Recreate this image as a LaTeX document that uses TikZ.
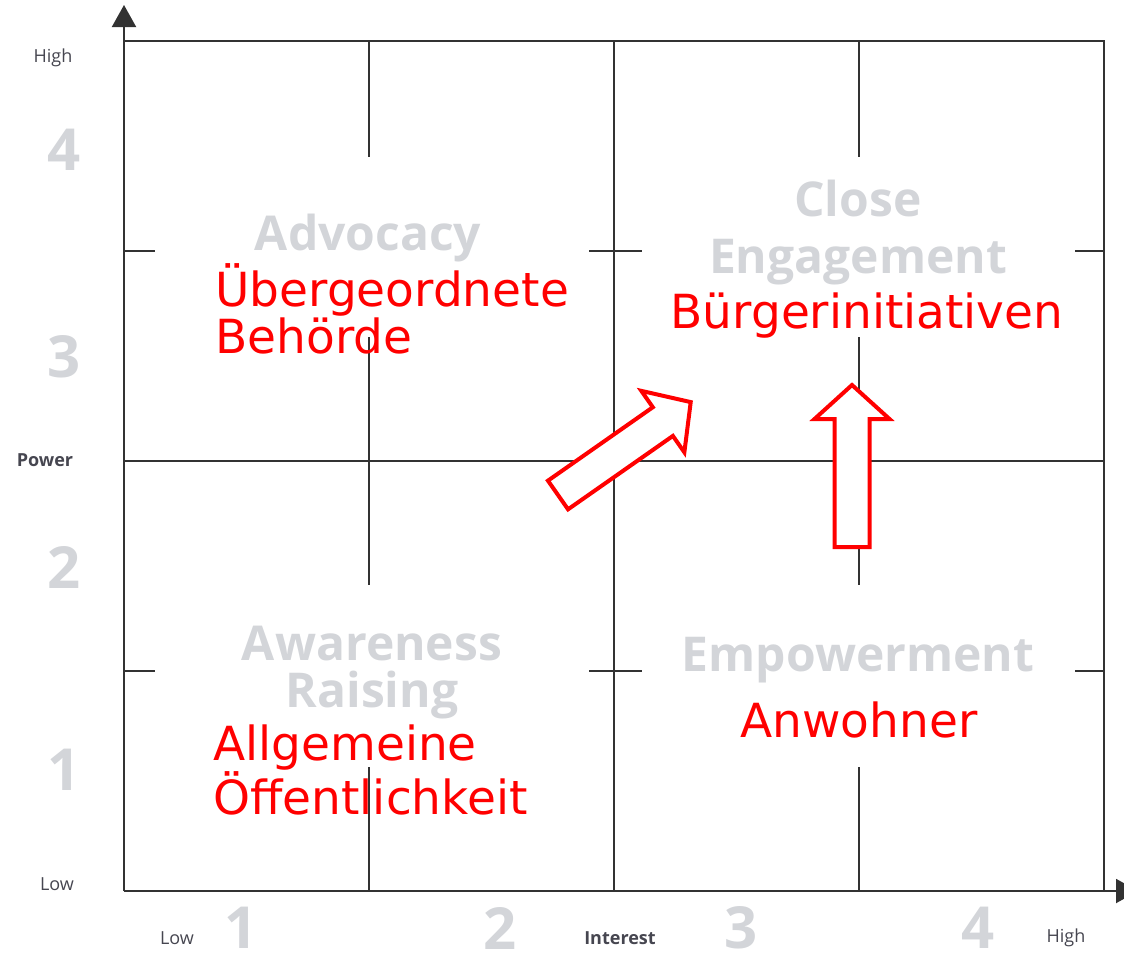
\documentclass[tikz,border=0pt]{standalone}
\usepackage{fontspec}
\setmainfont{DejaVu Sans}
\newfontfamily\quadfont{Open Sans}
\usepackage{tikz}
\usetikzlibrary{arrows.meta, positioning}

\definecolor{quadgray}{RGB}{211,213,217}
\definecolor{axisgray}{RGB}{50,50,50}
\definecolor{labelgray}{RGB}{70,70,80}

\tikzset{
  quad/.style={text=quadgray, font=\quadfont\bfseries\fontsize{24}{28.5}\selectfont, align=center, inner sep=0pt},
  num/.style={text=quadgray, font=\quadfont\bfseries\fontsize{29}{30}\selectfont, inner sep=0pt},
  axlabel/.style={text=labelgray, font=\quadfont\fontsize{9}{10}\selectfont, inner sep=0pt},
  group/.style={text=red, font=\fontsize{23.5}{22.5}\selectfont, align=left, inner sep=0pt},
  grid/.style={draw=axisgray, line width=0.7pt},
  axis/.style={draw=axisgray, line width=1pt, -{Triangle[length=11pt,width=12pt]}},
  moveup/.style={draw=red, line width=2pt, fill=white, line join=miter},
  blockarrow/.pic={
    \draw[moveup] (-17.5,0) -- (-17.5,-128) -- (-37.5,-128) -- (0,-162)
      -- (37.5,-128) -- (17.5,-128) -- (17.5,0) -- cycle;
  }
}

\begin{document}
\begin{tikzpicture}[x=0.5pt, y=-0.5pt]
    \useasboundingbox (0,0) rectangle (1124,954);

    % grid
    \draw[grid] (124,41) -- (1104,41) -- (1104,891);
    \draw[grid] (614,41) -- (614,891);
    \draw[grid] (124,461) -- (1104,461);
    \foreach \x in {369,859} {
        \draw[grid] (\x,41) -- (\x,157);
        \draw[grid] (\x,337) -- (\x,585);
        \draw[grid] (\x,767) -- (\x,891);
    }
    \foreach \y in {251,671} {
        \draw[grid] (124,\y) -- (155,\y);
        \draw[grid] (589,\y) -- (642,\y);
        \draw[grid] (1075,\y) -- (1104,\y);
    }

    % axes
    \draw[axis] (124,891) -- (124,5);
    \draw[axis] (124,891) -- (1138,891);

    % scale numbers
    \node[num] (p4) at (64,150) {4};
    \node[num] (p3) at (64,357) {3};
    \node[num] (p2) at (64,567) {2};
    \node[num] (p1) at (64,770) {1};
    \node[num] (i1) at (241,928) {1};
    \node[num] (i2) at (500,928) {2};
    \node[num] (i3) at (741,928) {3};
    \node[num] (i4) at (978,928) {4};

    \node[axlabel] (phigh) at (53,58) {High};
    \node[axlabel, font=\quadfont\bfseries\fontsize{9}{10}\selectfont] (power) at (45,460) {Power};
    \node[axlabel] (plow) at (57,884) {Low};
    \node[axlabel] (ilow) at (177,938) {Low};
    \node[axlabel, font=\quadfont\bfseries\fontsize{9}{10}\selectfont] (interest) at (620,938) {Interest};
    \node[axlabel] (ihigh) at (1066,938) {High};

    % quadrants
    \node[quad] (adv) at (368,238) {Advocacy};
    \node[quad] (close) at (858,233) {Close\\Engagement};
    \node[quad, font=\quadfont\bfseries\fontsize{24}{23.5}\selectfont] (aware) at (372,673) {Awareness\\Raising};
    \node[quad] (empower) at (858,660) {Empowerment};

    % stakeholders
    \node[group, anchor=west] (behoerde) at (215,309) {Übergeordnete\\Behörde};
    \node[group] (buerger) at (867,316) {Bürgerinitiativen};
    \node[group, anchor=west] (oeff) at (213,770) {Allgemeine\\Öffentlichkeit};
    \node[group] (anwohner) at (859,720) {Anwohner};

    % moves
    \pic at (852,547) {blockarrow};
    \pic[rotate=-55] at (558,495) {blockarrow};
\end{tikzpicture}
\end{document}
